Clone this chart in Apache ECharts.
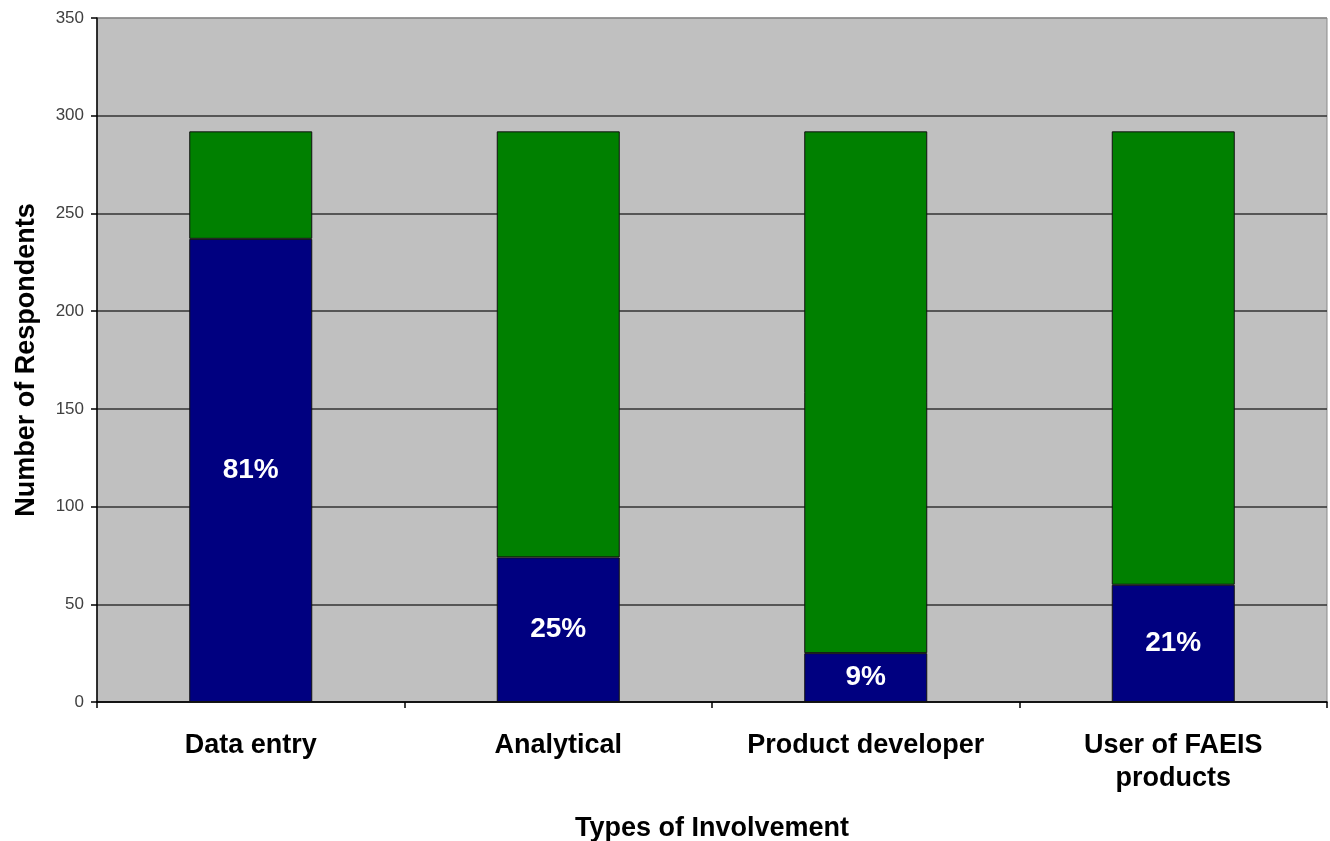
<!DOCTYPE html>
<html>
<head>
<meta charset="utf-8">
<script src="https://cdn.jsdelivr.net/npm/echarts@6/dist/echarts.min.js"></script>
<style>
html,body{margin:0;padding:0;background:#fff;}
#chart{width:1330px;height:841px;}
</style>
</head>
<body>
<div id="chart"></div>
<script>
const categories = ['Data entry', 'Analytical', 'Product developer', 'User of FAEIS\nproducts'];
const involvedValues = [237, 74, 25, 60];
const notInvolvedValues = [55, 218, 267, 232];
const pctLabels = ['81%', '25%', '9%', '21%'];
const yTicks = [0, 50, 100, 150, 200, 250, 300, 350];

const FONT = '"Liberation Sans", Arial, sans-serif';
const chart = echarts.init(document.getElementById('chart'), null, {renderer: 'canvas'});

const option = {
  animation: false,
  backgroundColor: '#ffffff',
  grid: {
    left: 97, right: 3, top: 18, bottom: 139,
    containLabel: false,
    outerBoundsMode: 'none',
    show: true, backgroundColor: '#C0C0C0', borderColor: '#8a8a8a', borderWidth: 1
  },
  xAxis: {
    type: 'category',
    data: categories,
    name: 'Types of Involvement',
    nameLocation: 'middle',
    nameGap: 113,
    nameTextStyle: {fontFamily: FONT, fontSize: 27, fontWeight: 'bold', color: '#000'},
    axisLine: {show: true, lineStyle: {color: '#000', width: 1.5}},
    axisTick: {show: true, alignWithLabel: false, length: 6, lineStyle: {color: '#000', width: 1.5}},
    axisLabel: {
      fontFamily: FONT, fontSize: 27, fontWeight: 'bold', color: '#000',
      margin: 27, lineHeight: 33, interval: 0
    },
    splitLine: {show: false}
  },
  yAxis: {
    type: 'value',
    min: yTicks[0],
    max: yTicks[yTicks.length - 1],
    interval: 50,
    name: 'Number of Respondents',
    nameLocation: 'middle',
    nameGap: 57,
    nameTextStyle: {fontFamily: FONT, fontSize: 27, fontWeight: 'bold', color: '#000'},
    axisLine: {show: true, lineStyle: {color: '#000', width: 1.5}},
    axisTick: {show: true, length: 6, lineStyle: {color: '#000', width: 1.5}},
    axisLabel: {fontFamily: FONT, fontSize: 17, color: '#404040', margin: 13},
    splitLine: {
      show: true,
      lineStyle: {color: ['#333', '#333', '#333', '#333', '#333', '#333', '#333', '#8a8a8a'], width: 1.5}
    }
  },
  series: [
    {
      name: 'Involved',
      type: 'bar',
      stack: 'total',
      barWidth: '40%',
      data: involvedValues,
      itemStyle: {color: '#000080', borderColor: '#111', borderWidth: 1},
      label: {
        show: true,
        position: 'inside',
        formatter: p => pctLabels[p.dataIndex],
        fontFamily: FONT, fontSize: 28, fontWeight: 'bold', color: '#ffffff'
      }
    },
    {
      name: 'Not involved',
      type: 'bar',
      stack: 'total',
      barWidth: '40%',
      data: notInvolvedValues,
      itemStyle: {color: '#008000', borderColor: '#111', borderWidth: 1}
    }
  ]
};
chart.setOption(option);
</script>
</body>
</html>
